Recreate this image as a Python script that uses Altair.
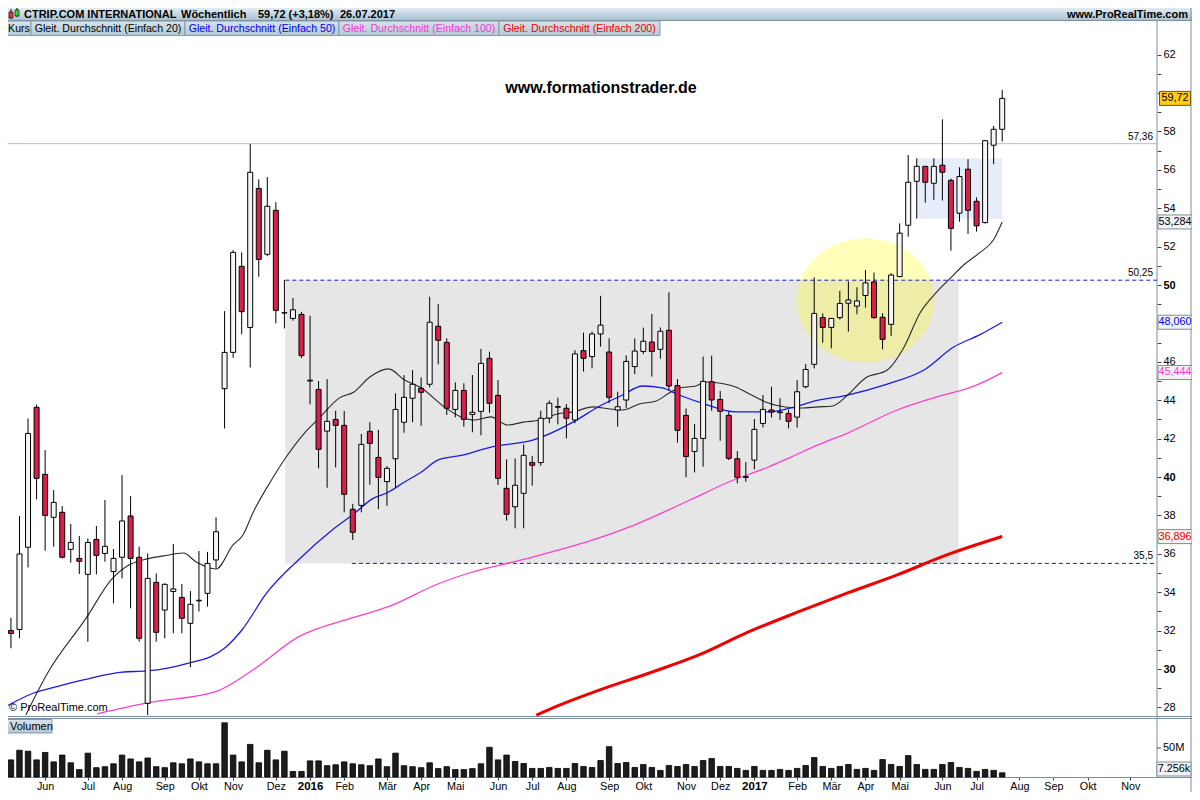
import altair as alt
import pandas as pd

# ---------------- data ----------------
opens = [32.0, 32.06, 36.34, 43.63, 40.14, 37.9, 38.16, 36.23, 35.76, 34.93,
         36.75, 36.02, 35.07, 35.82, 37.97, 35.82, 28.21, 34.51, 33.07, 34.04,
         33.73, 32.38, 33.55, 33.94, 35.68, 44.6, 46.49, 50.97, 47.79, 55.03,
         51.6, 53.89, 48.54, 48.26, 48.47, 45.0, 44.56, 42.39, 43.0, 42.69,
         38.32, 38.52, 42.38, 41.02, 39.76, 40.95, 42.85, 44.1, 44.62, 44.83,
         47.85, 47.01, 43.52, 44.51, 43.26, 43.42, 46.18, 44.25, 39.41, 38.45,
         39.15, 40.75, 40.75, 43.07, 43.63, 43.58, 42.97, 46.58, 46.27, 47.45,
         46.51, 43.49, 44.01, 45.75, 46.54, 47.03, 46.65, 47.64, 44.76, 43.21,
         41.33, 42.01, 44.96, 44.04, 43.21, 40.95, 39.98, 40.88, 42.79, 43.49,
         43.35, 43.31, 43.12, 44.7, 45.87, 48.3, 47.79, 48.3, 49.05, 48.9,
         49.45, 50.16, 48.32, 47.95, 50.44, 53.11, 55.4, 56.18, 55.3, 56.24,
         55.45, 53.74, 56.03, 54.36, 53.25, 57.28, 58.11]
highs = [32.67, 37.97, 43.05, 43.77, 41.4, 39.32, 38.49, 37.55, 36.93, 36.8,
         37.45, 38.8, 36.25, 40.1, 39.0, 36.37, 36.02, 34.98, 34.46, 36.51,
         34.43, 34.06, 36.15, 36.1, 37.9, 48.64, 51.82, 51.7, 57.34, 55.5,
         55.62, 54.32, 50.26, 49.32, 48.6, 48.4, 45.0, 45.1, 43.45, 43.44,
         38.6, 42.24, 42.85, 42.45, 40.57, 44.36, 45.31, 45.57, 45.19, 49.39,
         49.01, 47.22, 44.93, 44.88, 45.31, 46.67, 46.53, 45.05, 40.92, 40.97,
         41.7, 41.1, 43.45, 43.98, 44.13, 43.8, 46.61, 47.52, 47.57, 49.43,
         47.22, 44.44, 46.34, 47.22, 47.78, 48.49, 47.79, 49.62, 45.1, 43.57,
         42.76, 46.27, 46.32, 44.48, 43.4, 41.35, 40.78, 43.02, 44.27, 44.7,
         44.1, 43.5, 45.05, 45.88, 50.4, 48.52, 48.26, 49.69, 50.18, 49.88,
         50.78, 50.65, 48.53, 50.61, 53.21, 56.77, 56.6, 56.18, 56.6, 58.63,
         55.54, 56.13, 56.55, 54.57, 57.52, 58.28, 60.16]
lows = [31.08, 31.6, 35.29, 38.84, 36.16, 36.37, 35.76, 35.54, 34.95, 31.42,
        34.93, 35.59, 33.42, 34.72, 33.16, 31.42, 27.6, 31.42, 31.6, 31.86,
        31.86, 30.09, 32.99, 33.25, 35.24, 42.53, 46.21, 47.43, 45.7, 50.43,
        51.5, 48.0, 47.74, 48.14, 46.2, 43.78, 40.45, 39.44, 40.5, 38.16,
        36.72, 38.16, 39.6, 38.33, 38.5, 39.46, 42.31, 42.85, 42.67, 44.67,
        45.87, 43.23, 43.11, 42.62, 42.33, 42.17, 43.35, 39.58, 37.73, 37.33,
        37.33, 39.55, 40.59, 42.8, 42.74, 42.01, 42.8, 45.49, 45.66, 46.79,
        43.84, 42.62, 43.58, 45.36, 46.4, 45.23, 46.16, 44.5, 41.79, 39.98,
        40.24, 40.54, 43.45, 41.89, 40.88, 39.67, 39.75, 40.4, 42.58, 43.1,
        42.97, 42.53, 42.57, 44.62, 45.66, 46.99, 46.7, 48.2, 47.57, 48.47,
        48.82, 48.25, 46.65, 47.35, 50.4, 52.52, 53.46, 54.29, 54.43, 54.4,
        51.79, 53.3, 52.66, 52.78, 53.2, 56.29, 57.47]
closes = [31.85, 35.99, 42.27, 39.93, 38.0, 38.68, 35.82, 36.59, 35.61, 36.59,
          35.92, 36.39, 35.76, 37.71, 35.76, 31.6, 34.72, 31.91, 34.41, 34.17,
          32.64, 33.37, 33.58, 35.5, 37.15, 46.49, 51.7, 48.61, 55.87, 51.33,
          54.1, 48.68, 48.56, 48.71, 46.32, 45.04, 41.44, 42.9, 42.69, 39.1,
          37.12, 41.7, 41.75, 39.98, 40.45, 43.52, 44.15, 44.83, 44.41, 48.06,
          47.12, 43.58, 44.51, 43.0, 43.37, 45.92, 43.84, 39.93, 38.06, 39.57,
          41.13, 40.61, 43.06, 43.84, 43.67, 43.06, 46.41, 46.18, 47.45, 47.91,
          44.15, 43.66, 46.02, 46.56, 47.07, 46.54, 47.59, 44.74, 42.43, 41.07,
          42.01, 44.98, 44.01, 43.42, 40.97, 39.98, 40.02, 42.48, 43.52, 43.38,
          43.39, 42.9, 44.44, 45.6, 48.52, 47.79, 48.26, 49.04, 49.22, 49.17,
          50.11, 48.3, 47.17, 50.52, 52.7, 55.35, 56.18, 55.35, 56.18, 55.87,
          52.95, 55.65, 53.89, 53.08, 57.52, 58.11, 59.72]
volumes = [29.5, 46.1, 44.5, 29.5, 42.3, 26.1, 37.8, 24.5, 12.8, 41.1,
           16.1, 17.8, 22.8, 37.8, 31.1, 26.1, 32.8, 17.8, 16.1, 24.5,
           22.8, 31.1, 26.1, 22.8, 22.8, 93.4, 37.8, 26.1, 56.2, 24.5,
           46.1, 29.5, 44.5, 9.5, 9.5, 27.8, 27.8, 19.5, 21.1, 26.1,
           22.8, 21.1, 19.5, 31.1, 17.8, 41.1, 19.5, 17.8, 16.1, 24.5,
           14.5, 17.8, 12.8, 12.8, 14.5, 22.8, 51.2, 29.5, 37.8, 26.7,
           23.3, 14.8, 14.8, 16.5, 14.8, 14.8, 23.3, 18.2, 16.5, 28.4,
           52.3, 23.3, 25.0, 16.5, 21.6, 16.5, 11.4, 19.9, 18.2, 21.6,
           18.2, 28.4, 31.8, 18.2, 18.2, 14.8, 11.4, 18.2, 11.4, 11.4,
           13.1, 11.4, 14.8, 19.9, 33.5, 18.2, 14.8, 18.2, 21.6, 13.1,
           14.8, 11.4, 30.1, 21.6, 18.2, 36.9, 21.6, 13.1, 13.1, 21.6,
           25.0, 16.5, 14.8, 9.7, 13.1, 11.4, 7.26]

ma20_x = [1.74, 4.29, 8.82, 11.72, 13.8, 15.43, 17.87, 20.19, 21.69, 24.01,
          25.99, 27.15, 28.31, 30.28, 32.13, 34.45, 36.08, 38.4, 40.14, 42.0,
          44.2, 46.06, 48.03, 50.7, 52.67, 54.18, 56.15, 58.12, 59.98, 61.95,
          63.92, 65.78, 68.1, 70.07, 71.58, 73.55, 75.52, 77.03, 78.19, 80.16,
          81.32, 82.83, 84.8, 86.66, 88.63, 90.6, 92.46, 94.43, 96.17, 97.91,
          100.0, 102.55, 104.52, 106.38, 108.35, 110.09, 111.48, 113.34, 114.97, 116.0]
ma20_y = [27.6, 29.79, 32.66, 34.64, 35.42, 35.68, 35.89, 36.04, 35.57, 35.21,
          36.46, 36.98, 38.13, 39.69, 40.99, 42.34, 43.07, 44.11, 44.43, 45.21,
          45.63, 45.05, 44.64, 43.65, 43.13, 42.97, 43.13, 42.71, 42.86, 42.97,
          43.28, 43.39, 43.65, 43.54, 43.49, 43.8, 43.96, 44.38, 44.64, 44.74,
          44.95, 44.9, 44.69, 44.27, 43.85, 43.65, 43.59, 43.65, 43.7, 44.27,
          45.16, 45.57, 46.77, 48.54, 49.64, 50.42, 51.04, 51.67, 52.34, 53.28]
ma50_x = [-0.7, 2.67, 5.57, 8.47, 12.99, 15.89, 18.33, 21.23, 23.32, 25.17,
          27.03, 29.93, 33.64, 37.59, 40.26, 42.23, 44.2, 46.06, 48.03, 50.0,
          53.02, 56.15, 61.14, 65.78, 68.91, 71.58, 73.9, 76.22, 78.19, 80.86,
          84.8, 88.63, 91.76, 94.08, 97.91, 102.55, 106.84, 110.32, 113.34, 116.0]
ma50_y = [28.02, 28.75, 29.11, 29.43, 29.84, 29.9, 30.05, 30.36, 30.63, 31.15,
          32.03, 33.96, 35.68, 37.24, 38.13, 38.85, 39.22, 39.74, 40.26, 40.89,
          41.15, 41.56, 41.93, 42.86, 43.7, 44.27, 44.74, 44.64, 44.27, 43.85,
          43.39, 43.39, 43.65, 43.96, 44.27, 44.84, 45.57, 46.77, 47.4, 48.06]
ma100_x = [10.09, 15.89, 24.13, 28.31, 33.64, 39.91, 44.08, 50.23, 53.6, 59.74,
           68.1, 72.39, 78.19, 79.7, 83.99, 88.63, 91.3, 94.43, 97.91, 103.71,
           108.35, 112.99, 116.0]
ma100_y = [27.66, 28.23, 28.85, 29.95, 31.67, 32.66, 33.23, 34.48, 35.0, 35.68,
           36.72, 37.4, 38.54, 38.85, 39.74, 40.52, 41.04, 41.67, 42.29, 43.49,
           44.17, 44.79, 45.44]
ma200_x = [61.48, 64.27, 68.91, 74.71, 80.51, 86.31, 92.11, 97.91, 103.71, 109.51, 116.0]
ma200_y = [27.6, 28.13, 28.91, 29.79, 30.73, 31.93, 32.97, 33.96, 34.9, 35.94, 36.9]

zone_gray_x = [32.1, 110.9]
zone_gray_y = [35.5, 50.25]
zone_blue_x = [106.0, 116.0]
zone_blue_y = [53.46, 56.6]
circle_center = [100.0, 49.2]
level_top = 57.36
level_res = 50.25
level_sup = 35.5
level_res_start = 32.1
level_sup_start = 39.9
last_close, last_ma20, last_ma50, last_ma100, last_ma200 = 59.72, 53.284, 48.060, 45.444, 36.896
vol_tick = 50
hidden_price_labels = [48, 60]   # covered by the value boxes in the reference

# ---------------- layout ----------------
W, H = 1157, 777
FONT = "Liberation Sans"
PX_PER_UNIT = 19.2
xs = alt.Scale(domain=[-0.696, 133.53], nice=False, zero=False)
ys = alt.Scale(domain=[28, 62], range=[707.4, 54.6], nice=False, zero=False)
VB = 50 - (777 - 285) / PX_PER_UNIT          # volume baseline (price units)
VK = (29.0 / 50.0) / PX_PER_UNIT             # price units per million shares

one = pd.DataFrame({"k": [0]})
df = pd.DataFrame({"i": list(range(len(closes))), "open": opens, "high": highs,
                   "low": lows, "close": closes, "vol": volumes})
df["up"] = df["close"] >= df["open"]

dates = pd.date_range("2015-05-04", periods=134, freq="7D")
months_de = ["Jan", "Feb", "Mär", "Apr", "Mai", "Jun", "Jul", "Aug", "Sep", "Okt", "Nov", "Dez"]
tick_idx, tick_lab, year_idx, seen = [], [], [], set()
for k, d in enumerate(dates):
    key = (d.year, d.month)
    if key in seen:
        continue
    seen.add(key)
    if k == 0:
        continue
    tick_idx.append(k)
    if d.month == 1:
        tick_lab.append(str(d.year))
        year_idx.append(k)
    else:
        tick_lab.append(months_de[d.month - 1])

x_axis = alt.Axis(values=tick_idx,
                  labelExpr=f"{tick_lab}[indexof({tick_idx}, datum.value)]",
                  labelFontWeight={"condition": {"test": f"indexof({year_idx}, datum.value) >= 0",
                                                 "value": "bold"}, "value": "normal"},
                  labelFontSize={"condition": {"test": f"indexof({year_idx}, datum.value) >= 0",
                                               "value": 11.5}, "value": 10.8},
                  tickSize=3, tickColor="#444", domain=False, grid=False, title=None,
                  labelFont=FONT, labelColor="#000", labelPadding=0,
                  labelOverlap=False, labelFlush=False)
y_axis = alt.Axis(orient="right", values=list(range(28, 63)),
                  labelExpr=(f"datum.value % 2 == 0 && indexof({hidden_price_labels}, datum.value) < 0"
                             " ? format(datum.value, 'd') : ''"),
                  labelFontWeight={"condition": {"test": "datum.value % 10 == 0", "value": "bold"},
                                   "value": "normal"},
                  tickSize=4, tickColor="#444", domain=False, grid=False, title=None,
                  labelFont=FONT, labelFontSize=11, labelColor="#000", labelPadding=2,
                  labelOverlap=False, labelFlush=False)


def X(f=None, datum=None):
    if datum is not None:
        return alt.X(datum=datum, type="quantitative", scale=xs, axis=x_axis)
    return alt.X(f, type="quantitative", scale=xs, axis=x_axis)


def Y(f=None, datum=None):
    if datum is not None:
        return alt.Y(datum=datum, type="quantitative", scale=ys, axis=y_axis)
    return alt.Y(f, type="quantitative", scale=ys, axis=y_axis)


def prect(x0, x1, y0, y1, **kw):
    return alt.Chart(one).mark_rect(**kw).encode(
        x=alt.value(x0), x2=alt.value(x1), y=alt.value(y0), y2=alt.value(y1))


def ptext(t, x, y, **kw):
    kw.setdefault("font", FONT)
    kw.setdefault("baseline", "middle")
    return alt.Chart(one).mark_text(text=t, **kw).encode(x=alt.value(x), y=alt.value(y))


def pline(x0, x1, y0, y1, color="#7d8e9c", w=1):
    return alt.Chart(one).mark_rule(color=color, strokeWidth=w).encode(
        x=alt.value(x0), x2=alt.value(x1), y=alt.value(y0), y2=alt.value(y1))


grad_head = {"gradient": "linear", "x1": 0, "x2": 0, "y1": 0, "y2": 1,
             "stops": [{"offset": 0, "color": "#e1ecf3"}, {"offset": 1, "color": "#a9c2d1"}]}
grad_box = {"gradient": "linear", "x1": 0, "x2": 0, "y1": 0, "y2": 1,
            "stops": [{"offset": 0, "color": "#d6e3eb"}, {"offset": 1, "color": "#b3c8d5"}]}

# ---------------- frame / header ----------------
layers = [
    prect(0, 1200, 8, 20, fill=grad_head),
    pline(0, 1200, 20.5, 20.5),
    pline(0, 1200, 716.5, 716.5),
    pline(0, 1200, 718.5, 718.5),
    pline(0, 1200, 777.5, 777.5),
    pline(W, W, 20, 778),
    pline(1191, 1191, 8, 800),
    pline(11, 11, 9, 19, color="#000"),
    prect(9, 13, 12, 18, fill="#e03838", stroke="#000", strokeWidth=0.6),
    pline(17, 17, 8, 17, color="#000"),
    prect(15, 19, 10, 16, fill="#36d336", stroke="#000", strokeWidth=0.6),
    ptext("CTRIP.COM INTERNATIONAL", 24, 14.5, fontWeight="bold", fontSize=11, align="left"),
    ptext("Wöchentlich", 181, 14.5, fontWeight="bold", fontSize=11, align="left"),
    ptext("59,72 (+3,18%)", 258, 14.5, fontWeight="bold", fontSize=11, align="left"),
    ptext("26.07.2017", 340, 14.5, fontWeight="bold", fontSize=11, align="left"),
    ptext("www.ProRealTime.com", 1188, 14.5, fontWeight="bold", fontSize=11, align="right"),
]
legend_boxes = [(7, 31, "Kurs", "#000"),
                (31, 185, "Gleit. Durchschnitt (Einfach 20)", "#000"),
                (185, 339, "Gleit. Durchschnitt (Einfach 50)", "#0000ee"),
                (339, 499, "Gleit. Durchschnitt (Einfach 100)", "#f03cd2"),
                (499, 660, "Gleit. Durchschnitt (Einfach 200)", "#ee0000")]
for x0, x1, t, c in legend_boxes:
    layers.append(prect(x0, x1, 21, 35.5, fill=grad_box, stroke="#8799a6", strokeWidth=1))
    layers.append(ptext(t, (x0 + x1) / 2, 28.5, fontSize=10.6, color=c, align="center"))
layers += [
    prect(7, 52, 719.5, 733, fill=grad_box, stroke="#8799a6", strokeWidth=1),
    ptext("Volumen", 10, 726.5, fontSize=11, align="left"),
]

# ---------------- price panel ----------------
gray_zone = alt.Chart(pd.DataFrame({"x0": [zone_gray_x[0]], "x1": [zone_gray_x[1]],
                                    "y0": [zone_gray_y[0]], "y1": [zone_gray_y[1]]})).mark_rect(
    fill="#e6e6e6").encode(x=X("x0"), x2="x1", y=Y("y0"), y2="y1")
blue_zone = alt.Chart(pd.DataFrame({"x0": [zone_blue_x[0]], "x1": [zone_blue_x[1]],
                                    "y0": [zone_blue_y[0]], "y1": [zone_blue_y[1]]})).mark_rect(
    fill="#e7ecfb").encode(x=X("x0"), x2="x1", y=Y("y0"), y2="y1")
ELL = "M-1,0A1,0.9,0,1,1,1,0A1,0.9,0,1,1,-1,0Z"
ellipse = alt.Chart(pd.DataFrame({"x": [circle_center[0]], "y": [circle_center[1]]})).mark_point(
    shape=ELL, size=19044, filled=True, fill="#ffff00", fillOpacity=0.27, strokeWidth=0).encode(
    x=X("x"), y=Y("y"))

top_line = alt.Chart(one).mark_rule(color="#e2a8c0", strokeWidth=1).encode(
    x=alt.value(0), x2=alt.value(W), y=Y(datum=level_top))
res_line = alt.Chart(one).mark_rule(color="#1a1acc", strokeWidth=1, strokeDash=[4, 3]).encode(
    x=X(datum=level_res_start), x2=alt.value(W), y=Y(datum=level_res))
sup_line = alt.Chart(one).mark_rule(color="#1a1acc", strokeWidth=1, strokeDash=[4, 3]).encode(
    x=X(datum=level_sup_start), x2=alt.value(W), y=Y(datum=level_sup))


def ma_line(xv, yv, color, w):
    return alt.Chart(pd.DataFrame({"x": xv, "y": yv})).mark_line(
        color=color, strokeWidth=w, interpolate="monotone").encode(x=X("x"), y=Y("y"))


wicks = alt.Chart(df).mark_rule(color="#000", strokeWidth=1).encode(
    x=X("i"), y=Y("low"), y2="high:Q")
bodies = alt.Chart(df).mark_bar(size=5, stroke="#000", strokeWidth=1).encode(
    x=X("i"), y=Y("open"), y2="close:Q",
    fill=alt.condition("datum.up", alt.value("#f5f5f5"), alt.value("#dc1e4b")))

vbars = alt.Chart(df).transform_calculate(
    vtop=f"{VB} + datum.vol * {VK}", vbase=f"{VB}"
).mark_bar(size=5.5, fill="#1c1c1c", stroke="#000", strokeWidth=0.8).encode(
    x=X("i"), y=Y("vtop"), y2="vbase:Q")

layers += [gray_zone, blue_zone, ellipse, top_line, res_line, sup_line,
           ma_line(ma100_x, ma100_y, "#ff40c8", 1.3),
           ma_line(ma50_x, ma50_y, "#1a1ae6", 1.3),
           ma_line(ma200_x, ma200_y, "#f00000", 3),
           ma_line(ma20_x, ma20_y, "#2a2a2a", 1.1),
           wicks, bodies, vbars]


def level_label(txt, val):
    return alt.Chart(one).mark_text(text=txt, font=FONT, fontSize=10, align="right",
                                    baseline="bottom", dy=-2).encode(
        x=alt.value(1153), y=Y(datum=val))


def value_box(txt, val, hw, fill, stroke, tcolor, cx):
    path = f"M-{hw/7:.3f},-1H{hw/7:.3f}V1H-{hw/7:.3f}Z"
    b = alt.Chart(one).mark_point(shape=path, size=196, filled=True, fill=fill, stroke=stroke,
                                  strokeWidth=1, opacity=1).encode(x=alt.value(cx), y=Y(datum=val))
    t = alt.Chart(one).mark_text(text=txt, font=FONT, fontSize=10.8, color=tcolor,
                                 align="center", baseline="middle").encode(
        x=alt.value(cx), y=Y(datum=val))
    return [b, t]


layers += [level_label("57,36", level_top), level_label("50,25", level_res),
           level_label("35,5", level_sup)]
layers += value_box("59,72", last_close, 15.5, "#ffcc1a", "#6b5a00", "#000", 1175)
layers += value_box("53,284", last_ma20, 17, "#f2f2f2", "#7d8e9c", "#000", 1175)
layers += value_box("48,060", last_ma50, 17, "#f2f2f2", "#7d8e9c", "#0000ee", 1175)
layers += value_box("45,444", last_ma100, 17, "#f2f2f2", "#7d8e9c", "#f03cd2", 1175)
layers += value_box("36,896", last_ma200, 17, "#f2f2f2", "#7d8e9c", "#ee0000", 1175)

# volume scale tick + labels
vol_tick_y = VB + vol_tick * VK
layers += [
    alt.Chart(one).mark_rule(color="#444").encode(
        x=alt.value(W), x2=alt.value(W + 4), y=Y(datum=vol_tick_y)),
    alt.Chart(one).mark_text(text="50M", font=FONT, fontSize=11, align="left",
                             baseline="middle").encode(x=alt.value(W + 6), y=Y(datum=vol_tick_y)),
    alt.Chart(one).mark_point(shape="M-2.43,-1H2.43V1H-2.43Z", size=196, filled=True,
                              fill="#f2f2f2", stroke="#7d8e9c", strokeWidth=1, opacity=1).encode(
        x=alt.value(1174), y=alt.value(769)),
    ptext("7.256k", 1174, 769, fontSize=10.8, align="center"),
    ptext("www.formationstrader.de", 601, 88, fontSize=16, fontWeight="bold", align="center"),
    ptext("© ProRealTime.com", 9, 708, fontSize=11, align="left"),
]

chart = alt.layer(*layers).properties(
    width=W, height=H,
    autosize=alt.AutoSizeParams(type="none"),
    padding={"left": -8, "top": -8, "right": 35, "bottom": 15},
    background="white",
).configure_view(stroke=None)

chart.save("out.html", embed_options={"renderer": "svg", "actions": False})
